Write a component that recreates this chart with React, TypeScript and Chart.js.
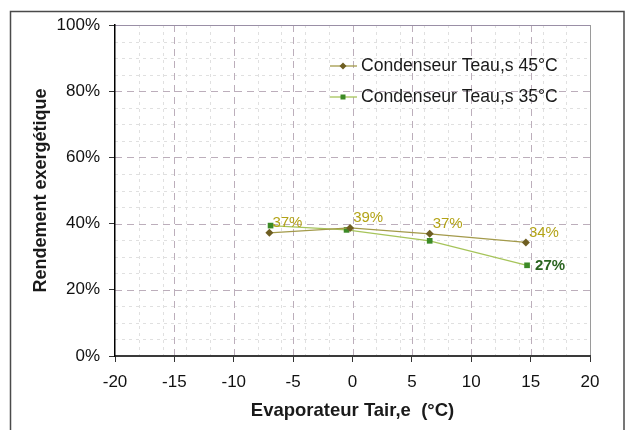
import React, { useEffect, useRef } from "react";
import { Chart, registerables } from "chart.js";

Chart.register(...registerables);

// ---- data ----
const seriesNames = ["Condenseur Teau,s 45°C", "Condenseur Teau,s 35°C"];
const series45X = [-7, -0.2, 6.5, 14.6];
const series45Y = [37.2, 38.7, 36.9, 34.3];
const series45Labels = ["37%", "39%", "37%", "34%"];
const series35X = [-6.9, -0.5, 6.5, 14.7];
const series35Y = [39.4, 38.1, 34.8, 27.4];
const series35Labels = ["", "", "", "27%"];
const xTitle = "Evaporateur Tair,e  (°C)";
const yTitle = "Rendement exergétique";

const FONT = "'Liberation Sans', Arial, sans-serif";
const C45_LINE = "#a39a4a";
const C45_PT = "#6e5e22";
const C45_LBL = "#b3a316";
const C35_LINE = "#a6c45a";
const C35_PT = "#3c8a26";
const C35_LBL = "#2a6420";

const decor = {
  id: "decor",
  beforeDraw(chart: any) {
    const { ctx, chartArea: a, scales } = chart;
    const x = scales.x;
    const y = scales.y;
    const line = (x1: number, y1: number, x2: number, y2: number) => {
      ctx.beginPath();
      ctx.moveTo(x1, y1);
      ctx.lineTo(x2, y2);
      ctx.stroke();
    };
    ctx.save();
    // outer frame
    ctx.strokeStyle = "#4a4a4a";
    ctx.lineWidth = 1.5;
    ctx.strokeRect(10.5, 11.5, 613.5, 450);
    // minor grid
    ctx.lineWidth = 1;
    ctx.setLineDash([3, 4]);
    ctx.strokeStyle = "#e0e0e0";
    for (let v = -18; v < 20; v += 2) {
      if (v % 5 === 0) continue;
      const px = Math.round(x.getPixelForValue(v)) + 0.5;
      line(px, a.top, px, a.bottom);
    }
    for (let v = 5; v < 100; v += 5) {
      if (v % 20 === 0) continue;
      const py = Math.round(y.getPixelForValue(v)) + 0.5;
      line(a.left, py, a.right, py);
    }
    // major grid
    ctx.setLineDash([7, 5]);
    ctx.strokeStyle = "#bcaebb";
    for (let v = -15; v < 20; v += 5) {
      const px = Math.round(x.getPixelForValue(v)) + 0.5;
      line(px, a.top, px, a.bottom);
    }
    for (let v = 20; v < 100; v += 20) {
      const py = Math.round(y.getPixelForValue(v)) + 0.5;
      line(a.left, py, a.right, py);
    }
    // top & right border
    ctx.setLineDash([]);
    ctx.strokeStyle = "#9a8fa6";
    line(a.left, Math.round(a.top) + 0.5, a.right, Math.round(a.top) + 0.5);
    ctx.strokeStyle = "#9a9a9a";
    line(Math.round(a.right) + 0.5, a.top, Math.round(a.right) + 0.5, a.bottom);
    ctx.restore();
  },
  afterDatasetsDraw(chart: any) {
    const { ctx } = chart;
    ctx.save();
    ctx.textBaseline = "middle";
    ctx.textAlign = "left";
    const m45 = chart.getDatasetMeta(0);
    ctx.font = `15px ${FONT}`;
    ctx.fillStyle = C45_LBL;
    series45Labels.forEach((t, i) => {
      if (!t) return;
      const p = m45.data[i];
      ctx.fillText(t, p.x + 3, p.y - 10);
    });
    const m35 = chart.getDatasetMeta(1);
    ctx.font = `bold 15px ${FONT}`;
    ctx.fillStyle = C35_LBL;
    series35Labels.forEach((t, i) => {
      if (!t) return;
      const p = m35.data[i];
      ctx.fillText(t, p.x + 8, p.y + 1);
    });
    ctx.restore();
  },
  afterDraw(chart: any) {
    const { ctx } = chart;
    ctx.save();
    const items = [
      { name: seriesNames[0], line: C45_LINE, pt: C45_PT, shape: "diamond", y: 66 },
      { name: seriesNames[1], line: C35_LINE, pt: C35_PT, shape: "square", y: 97 },
    ];
    items.forEach((it) => {
      ctx.strokeStyle = it.line;
      ctx.lineWidth = 1.3;
      ctx.beginPath();
      ctx.moveTo(330, it.y);
      ctx.lineTo(357, it.y);
      ctx.stroke();
      ctx.fillStyle = it.pt;
      ctx.beginPath();
      if (it.shape === "diamond") {
        ctx.moveTo(343, it.y - 3.5);
        ctx.lineTo(346.5, it.y);
        ctx.lineTo(343, it.y + 3.5);
        ctx.lineTo(339.5, it.y);
        ctx.closePath();
      } else {
        ctx.rect(340.5, it.y - 2.5, 5, 5);
      }
      ctx.fill();
      ctx.fillStyle = "#1a1a1a";
      ctx.font = `17.6px ${FONT}`;
      ctx.textBaseline = "middle";
      ctx.textAlign = "left";
      ctx.fillText(it.name, 361, it.y);
    });
    ctx.restore();
  },
};

export default function App() {
  const ref = useRef<HTMLCanvasElement | null>(null);
  useEffect(() => {
    if (!ref.current) return;
    const chart = new Chart(ref.current, {
      type: "line",
      data: {
        datasets: [
          {
            label: seriesNames[0],
            data: series45X.map((v, i) => ({ x: v, y: series45Y[i] })),
            borderColor: C45_LINE,
            backgroundColor: C45_PT,
            borderWidth: 1.3,
            pointStyle: "rectRot",
            pointRadius: 4,
            pointBorderWidth: 0,
            pointBackgroundColor: C45_PT,
            pointBorderColor: C45_PT,
            tension: 0,
          },
          {
            label: seriesNames[1],
            data: series35X.map((v, i) => ({ x: v, y: series35Y[i] })),
            borderColor: C35_LINE,
            backgroundColor: C35_PT,
            borderWidth: 1.3,
            pointStyle: "rect",
            pointRadius: 4,
            pointBorderWidth: 0,
            pointBackgroundColor: C35_PT,
            pointBorderColor: C35_PT,
            tension: 0,
          },
        ],
      },
      options: {
        animation: false,
        responsive: false,
        layout: { padding: { left: 0, right: 37, top: 25, bottom: 0 } },
        plugins: {
          legend: { display: false },
          tooltip: { enabled: false },
        },
        scales: {
          x: {
            type: "linear",
            min: -20,
            max: 20,
            afterFit: (s: any) => {
              s.height = 74;
            },
            ticks: {
              stepSize: 5,
              color: "#111",
              font: { family: FONT, size: 17 },
              padding: 10,
              maxRotation: 0,
            },
            grid: {
              drawOnChartArea: false,
              drawTicks: true,
              tickLength: 6,
              tickColor: "#333",
            },
            border: { display: true, color: "#3a3a3a", width: 2 },
            title: {
              display: true,
              text: xTitle,
              color: "#1a1a1a",
              font: { family: FONT, size: 18.5, weight: "bold" },
              padding: { top: 8, bottom: 8 },
            },
          },
          y: {
            type: "linear",
            min: 0,
            max: 100,
            afterFit: (s: any) => {
              s.width = 115;
            },
            ticks: {
              stepSize: 20,
              color: "#111",
              font: { family: FONT, size: 17 },
              padding: 9,
              callback: (v: any) => `${v}%`,
            },
            grid: {
              drawOnChartArea: false,
              drawTicks: true,
              tickLength: 6,
              tickColor: "#333",
            },
            border: { display: true, color: "#000", width: 1.5 },
            title: {
              display: true,
              text: yTitle,
              color: "#1a1a1a",
              font: { family: FONT, size: 18, weight: "bold" },
              padding: { top: 30, bottom: 30 },
            },
          },
        },
      },
      plugins: [decor],
    });
    return () => chart.destroy();
  }, []);
  return (
    <div style={{ position: "fixed", left: 0, top: 0, width: 627, height: 430, background: "#fff" }}>
      <canvas ref={ref} width={627} height={430} style={{ display: "block" }} />
    </div>
  );
}
